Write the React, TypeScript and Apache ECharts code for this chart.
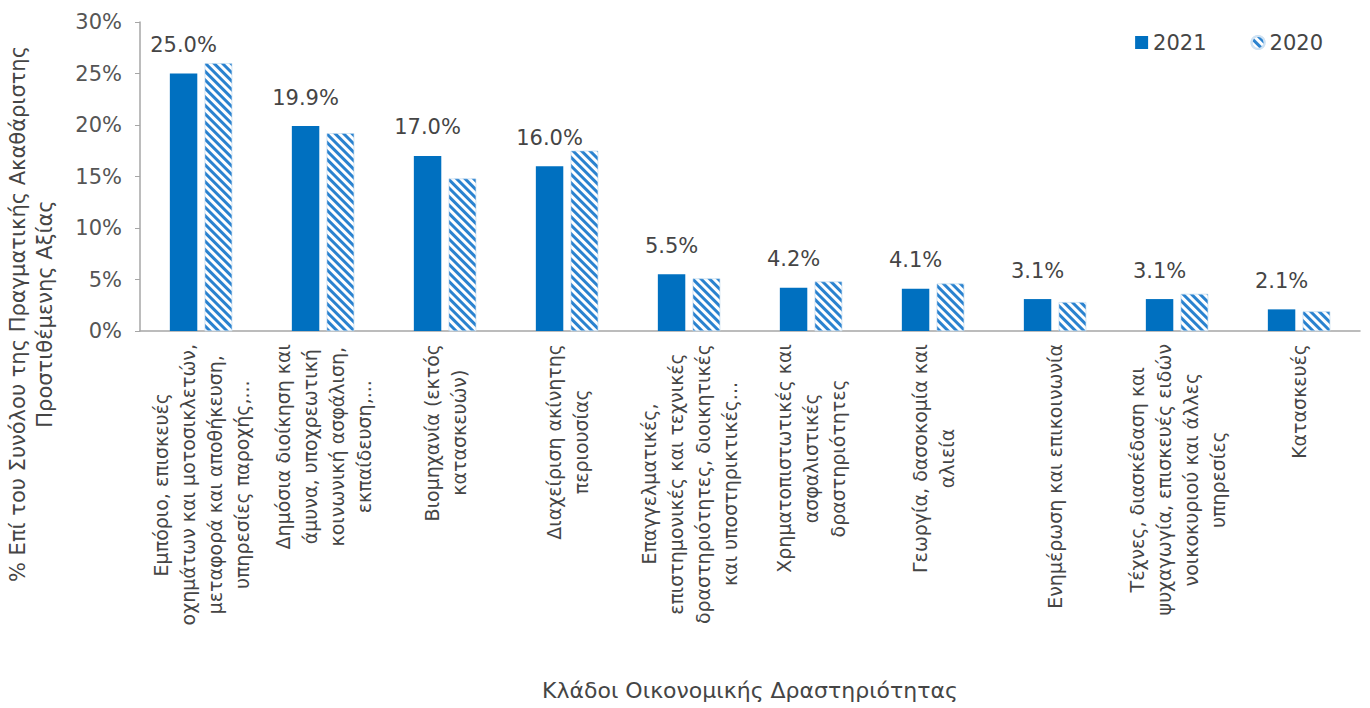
import React, { useEffect, useRef } from "react";
import * as echarts from "echarts";

const categories = [
  "Εμπόριο, επισκευές\nοχημάτων και μοτοσικλετών,\nμεταφορά και αποθήκευση,\nυπηρεσίες παροχής,...",
  "Δημόσια διοίκηση και\nάμυνα, υποχρεωτική\nκοινωνική ασφάλιση,\nεκπαίδευση,...",
  "Βιομηχανία (εκτός\nκατασκευών)",
  "Διαχείριση ακίνητης\nπεριουσίας",
  "Επαγγελματικές,\nεπιστημονικές και τεχνικές\nδραστηριότητες, διοικητικές\nκαι υποστηρικτικές...",
  "Χρηματοπιστωτικές και\nασφαλιστικές\nδραστηριότητες",
  "Γεωργία, δασοκομία και\nαλιεία",
  "Ενημέρωση και επικοινωνία",
  "Τέχνες, διασκέδαση και\nψυχαγωγία, επισκευές ειδών\nνοικοκυριού και άλλες\nυπηρεσίες",
  "Κατασκευές",
];

const values2021 = [25.0, 19.9, 17.0, 16.0, 5.5, 4.2, 4.1, 3.1, 3.1, 2.1];
const values2020 = [26.0, 19.2, 14.8, 17.5, 5.1, 4.8, 4.6, 2.8, 3.6, 1.9];

const seriesNames = ["2021", "2020"];
const yTitle = "% Επί του Συνόλου της Πραγματικής Ακαθάριστης\nΠροστιθέμενης Αξίας";
const xTitle = "Κλάδοι Οικονομικής Δραστηριότητας";

const FONT = "DejaVu Sans";
const TEXT = "#454545";
const BLUE = "#0070C0";
const HATCH = "#2a82cf";

export default function App() {
  const ref = useRef<HTMLDivElement>(null);
  useEffect(() => {
    if (!ref.current) return;
    const chart = echarts.init(ref.current, undefined, { renderer: "svg" });
    chart.setOption({
      animation: false,
      textStyle: { fontFamily: FONT },
      grid: { left: 140, right: 10, top: 22, bottom: 377, containLabel: false },
      legend: {
        top: 27,
        right: 42,
        itemWidth: 13,
        itemHeight: 13,
        itemGap: 44,
        textStyle: { fontSize: 21, color: TEXT, fontFamily: FONT },
        data: [
          { name: seriesNames[0], icon: "rect" },
          { name: seriesNames[1], icon: "circle" },
        ],
      },
      xAxis: {
        type: "category",
        data: categories,
        name: xTitle,
        nameLocation: "middle",
        nameGap: 348,
        nameTextStyle: { fontSize: 22, color: TEXT, fontFamily: FONT },
        axisLine: { lineStyle: { color: "#a6a6a6", width: 1.5 } },
        axisTick: { lineStyle: { color: "#a6a6a6" }, length: 6 },
        axisLabel: {
          rotate: 90,
          interval: 0,
          margin: 13,
          formatter: (v: string) =>
            v
              .split("\n")
              .map((l) => "{c|" + l + "}")
              .join("\n"),
          rich: {
            c: {
              align: "center",
              fontSize: 19,
              lineHeight: 27,
              color: TEXT,
              fontFamily: FONT,
            },
          },
        },
      },
      yAxis: {
        type: "value",
        min: 0,
        max: 30,
        interval: 5,
        axisLine: { show: true, lineStyle: { color: "#a6a6a6", width: 1.5 } },
        axisTick: { show: true, length: 5, lineStyle: { color: "#a6a6a6" } },
        splitLine: { show: false },
        axisLabel: {
          formatter: "{value}%",
          fontSize: 21,
          color: "#555555",
          margin: 18,
          fontFamily: FONT,
        },
      },
      graphic: [
        {
          type: "text",
          x: 31,
          y: 314,
          rotation: Math.PI / 2,
          style: {
            text: yTitle,
            fontSize: 21,
            lineHeight: 27,
            fill: TEXT,
            fontFamily: FONT,
            align: "center",
            verticalAlign: "middle",
          },
        },
      ],
      series: [
        {
          name: seriesNames[0],
          type: "bar",
          data: values2021,
          barWidth: "22.5%",
          barGap: "27%",
          itemStyle: { color: BLUE },
          label: {
            show: true,
            position: "top",
            distance: 18,
            formatter: (p: any) => p.value.toFixed(1) + "%",
            fontSize: 21,
            color: TEXT,
            fontFamily: FONT,
          },
        },
        {
          name: seriesNames[1],
          type: "bar",
          data: values2020,
          barWidth: "22.5%",
          itemStyle: {
            color: "#ffffff",
            borderColor: "#cfe2f3",
            borderWidth: 0.5,
            decal: {
              symbol: "rect",
              symbolSize: 1,
              color: HATCH,
              backgroundColor: "#ffffff",
              dashArrayX: [1, 0],
              dashArrayY: [3, 2.5],
              rotation: Math.PI / 4,
            },
          },
        },
      ],
    });
    return () => chart.dispose();
  }, []);
  return (
    <div
      ref={ref}
      style={{ position: "fixed", left: 0, top: 0, width: 1370, height: 708, background: "#fff" }}
    />
  );
}
